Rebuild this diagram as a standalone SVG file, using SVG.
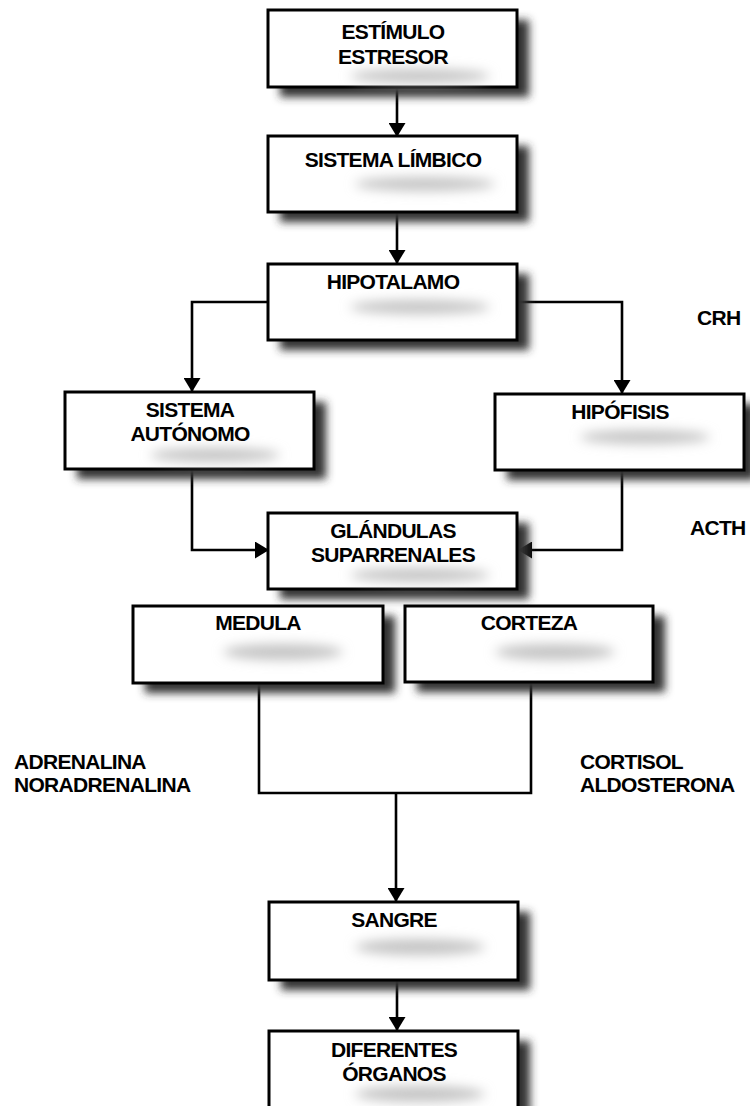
<svg xmlns="http://www.w3.org/2000/svg" width="750" height="1106" viewBox="0 0 750 1106">
<defs>
<style>
.box{fill:#fff;stroke:#000;stroke-width:3}
.sh{fill:#333;filter:url(#blur)}
.t{font-family:"Liberation Sans",Arial,sans-serif;font-weight:bold;font-size:21px;fill:#000;text-anchor:middle;letter-spacing:-0.7px}
.lbl{font-family:"Liberation Sans",Arial,sans-serif;font-weight:bold;font-size:21px;fill:#000;letter-spacing:-0.7px}
.ts{fill:#c4c4c4;filter:url(#blur2)}
.c{fill:none;stroke:#000;stroke-width:2.6}
.a{marker-end:url(#arr)}
</style>
<filter id="blur" x="-20%" y="-30%" width="140%" height="160%"><feGaussianBlur stdDeviation="4"/></filter>
<filter id="blur2" x="-50%" y="-100%" width="200%" height="300%"><feGaussianBlur stdDeviation="6"/></filter>
<marker id="arr" viewBox="0 0 14 17" markerWidth="14" markerHeight="17" refX="13" refY="8.5" orient="auto" markerUnits="userSpaceOnUse"><path d="M0,0 L14,8.5 L0,17 z" fill="#000"/></marker>
</defs>
<rect width="750" height="1106" fill="#fff"/>

<g id="connectors">
<path class="c a" d="M397,88 V136"/>
<path class="c a" d="M397,213 V263"/>
<path class="c a" d="M269,302 H192 V391"/>
<path class="c a" d="M517,302 H622 V393"/>
<path class="c a" d="M192,469 V550 H268"/>
<path class="c a" d="M622,470 V550 H519"/>
<path class="c" d="M259,683 V793 H531 V682"/>
<path class="c a" d="M396,793 V901"/>
<path class="c a" d="M397,980 V1030"/>
</g>

<g id="n1">
<rect class="sh" x="280" y="20" width="249" height="77"/>
<rect class="box" x="268" y="10" width="249" height="77"/>
<ellipse class="ts" cx="420" cy="76" rx="70" ry="7"/>
<text class="t" x="393" y="39">ESTÍMULO</text>
<text class="t" x="393" y="64">ESTRESOR</text>
</g>

<g id="n2">
<rect class="sh" x="280" y="146" width="249" height="76"/>
<rect class="box" x="268" y="136" width="249" height="76"/>
<ellipse class="ts" cx="425" cy="184" rx="70" ry="7"/>
<text class="t" x="393" y="167">SISTEMA LÍMBICO</text>
</g>

<g id="n3">
<rect class="sh" x="280" y="274" width="249" height="76"/>
<rect class="box" x="268" y="264" width="249" height="76"/>
<ellipse class="ts" cx="420" cy="307" rx="70" ry="7"/>
<text class="t" x="393" y="289">HIPOTALAMO</text>
</g>

<g id="n4">
<rect class="sh" x="77" y="402" width="249" height="77"/>
<rect class="box" x="65" y="392" width="249" height="77"/>
<ellipse class="ts" cx="215" cy="455" rx="65" ry="7"/>
<text class="t" x="190" y="417">SISTEMA</text>
<text class="t" x="190" y="441">AUTÓNOMO</text>
</g>

<g id="n5">
<rect class="sh" x="507" y="404" width="249" height="76"/>
<rect class="box" x="495" y="394" width="249" height="76"/>
<ellipse class="ts" cx="645" cy="437" rx="65" ry="7"/>
<text class="t" x="620" y="419">HIPÓFISIS</text>
</g>

<g id="n6">
<rect class="sh" x="280" y="523" width="249" height="76"/>
<rect class="box" x="268" y="513" width="249" height="76"/>
<ellipse class="ts" cx="420" cy="575" rx="70" ry="7"/>
<text class="t" x="393" y="538">GLÁNDULAS</text>
<text class="t" x="393" y="562">SUPARRENALES</text>
</g>

<g id="n7">
<rect class="sh" x="145" y="616" width="250" height="77"/>
<rect class="box" x="133" y="606" width="250" height="77"/>
<ellipse class="ts" cx="283" cy="652" rx="60" ry="8"/>
<text class="t" x="258" y="630">MEDULA</text>
</g>

<g id="n8">
<rect class="sh" x="417" y="616" width="248" height="76"/>
<rect class="box" x="405" y="606" width="248" height="76"/>
<ellipse class="ts" cx="555" cy="652" rx="60" ry="8"/>
<text class="t" x="529" y="630">CORTEZA</text>
</g>

<g id="n9">
<rect class="sh" x="281" y="912" width="249" height="78"/>
<rect class="box" x="269" y="902" width="249" height="78"/>
<ellipse class="ts" cx="420" cy="947" rx="65" ry="8"/>
<text class="t" x="394" y="927">SANGRE</text>
</g>

<g id="n10">
<rect class="sh" x="281" y="1041" width="249" height="80"/>
<rect class="box" x="269" y="1031" width="249" height="80"/>
<ellipse class="ts" cx="420" cy="1094" rx="65" ry="8"/>
<text class="t" x="394" y="1057">DIFERENTES</text>
<text class="t" x="394" y="1081">ÓRGANOS</text>
</g>

<g id="labels">
<text class="lbl" x="697" y="325">CRH</text>
<text class="lbl" x="690" y="535">ACTH</text>
<text class="lbl" x="14" y="769">ADRENALINA</text>
<text class="lbl" x="14" y="792">NORADRENALINA</text>
<text class="lbl" x="580" y="769">CORTISOL</text>
<text class="lbl" x="580" y="792">ALDOSTERONA</text>
</g>
</svg>
